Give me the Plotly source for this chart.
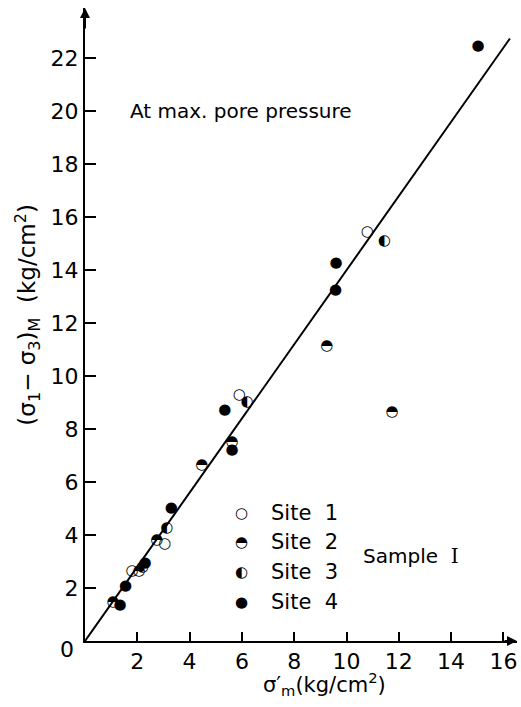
import plotly.graph_objects as go

# ---- data ----
site1_x = [1.80, 3.05, 5.90, 10.80]
site1_y = [2.62, 3.65, 9.28, 15.45]

site2_x = [1.07, 2.07, 2.75, 4.47, 5.62, 9.25, 11.74]
site2_y = [1.48, 2.63, 3.80, 6.62, 7.50, 11.13, 8.64]

site3_x = [2.20, 3.13, 6.20, 11.45]
site3_y = [2.80, 4.25, 9.02, 15.08]

site4_x = [1.34, 1.55, 2.30, 3.30, 5.35, 5.62, 9.60, 9.58, 15.03]
site4_y = [1.34, 2.08, 2.93, 5.00, 8.72, 7.21, 14.28, 13.25, 22.45]

fit_x = [0.0, 16.25]
fit_y = [0.0, 22.75]

x_ticks = [2, 4, 6, 8, 10, 12, 14, 16]
y_ticks = [2, 4, 6, 8, 10, 12, 14, 16, 18, 20, 22]

sites = [
    ("Site 1", site1_x, site1_y, "○"),
    ("Site 2", site2_x, site2_y, "◓"),
    ("Site 3", site3_x, site3_y, "◐"),
    ("Site 4", site4_x, site4_y, "●"),
]

FONT = "DejaVu Sans"
GLYPH = 15

fig = go.Figure()
fig.add_trace(go.Scatter(x=fit_x, y=fit_y, mode="lines",
                         line=dict(color="black", width=2), showlegend=False,
                         hoverinfo="skip"))
for name, xs, ys, g in sites:
    fig.add_trace(go.Scatter(x=xs, y=ys, mode="text", text=[g] * len(xs),
                             textposition="middle center",
                             textfont=dict(family=FONT, size=GLYPH, color="black"),
                             name=name, showlegend=False))

ann = []
# legend (built from annotations)
leg_top = 0.2025
for i, (name, xs, ys, g) in enumerate(sites):
    yy = leg_top - i * 0.0468
    ann.append(dict(x=0.362, y=yy, xref="paper", yref="paper", text=g,
                    showarrow=False, font=dict(family=FONT, size=GLYPH, color="black"),
                    xanchor="center", yanchor="middle"))
    lab = name.replace(" ", "&nbsp;&nbsp;")
    ann.append(dict(x=0.425, y=yy, xref="paper", yref="paper", text=lab,
                    showarrow=False, font=dict(family=FONT, size=21, color="black"),
                    xanchor="left", yanchor="middle"))

ann.append(dict(x=0.10, y=0.838, xref="paper", yref="paper",
                text="At max. pore pressure", showarrow=False,
                font=dict(family=FONT, size=20, color="black"),
                xanchor="left", yanchor="middle"))
ann.append(dict(x=0.64, y=0.135, xref="paper", yref="paper",
                text="Sample&nbsp;&nbsp;<span style='font-family:DejaVu Serif'>I</span>",
                showarrow=False,
                font=dict(family=FONT, size=20, color="black"),
                xanchor="left", yanchor="middle"))
# origin label
ann.append(dict(x=0, y=0, xref="x", yref="y", text="0", showarrow=False,
                font=dict(family=FONT, size=22, color="black"),
                xshift=-18, yshift=-8))
# axis arrows
ann.append(dict(x=0, y=23.9, xref="x", yref="y", text="", showarrow=True,
                ax=0, ay=22, arrowhead=2, arrowsize=1, arrowwidth=2,
                arrowcolor="black", standoff=0))
ann.append(dict(x=16.52, y=0, xref="x", yref="y", text="", showarrow=True,
                ax=-14, ay=0, arrowhead=2, arrowsize=1, arrowwidth=2,
                arrowcolor="black", standoff=0))
# axis titles
ann.append(dict(x=-0.135, y=0.515, xref="paper", yref="paper",
                text="(σ<sub>1</sub>− σ<sub>3</sub>)<sub>M</sub>&nbsp;&nbsp;(kg/cm<sup>2</sup>)",
                textangle=-90, showarrow=False,
                font=dict(family=FONT, size=23, color="black"),
                xanchor="center", yanchor="middle"))
ann.append(dict(x=0.555, y=-0.068, xref="paper", yref="paper",
                text="σ′<sub>m</sub>(kg/cm<sup>2</sup>)", showarrow=False,
                font=dict(family=FONT, size=21, color="black"),
                xanchor="center", yanchor="middle"))

fig.update_layout(
    width=521, height=707,
    margin=dict(l=85, r=4, t=8, b=66),
    paper_bgcolor="white", plot_bgcolor="white",
    font=dict(family=FONT, size=22, color="black"),
    annotations=ann,
    xaxis=dict(range=[0, 16.52], showgrid=False, zeroline=False,
               showline=True, linecolor="black", linewidth=2,
               ticks="inside", ticklen=9, tickwidth=1.5, tickcolor="black",
               tickvals=x_ticks, ticktext=[str(v) for v in x_ticks],
               tickfont=dict(family=FONT, size=22)),
    yaxis=dict(range=[0, 23.9], showgrid=False, zeroline=False,
               showline=True, linecolor="black", linewidth=2,
               ticks="inside", ticklen=11, tickwidth=1.5, tickcolor="black",
               tickvals=y_ticks, ticktext=[str(v) for v in y_ticks],
               tickfont=dict(family=FONT, size=22)),
)

fig.write_html("out.html")
